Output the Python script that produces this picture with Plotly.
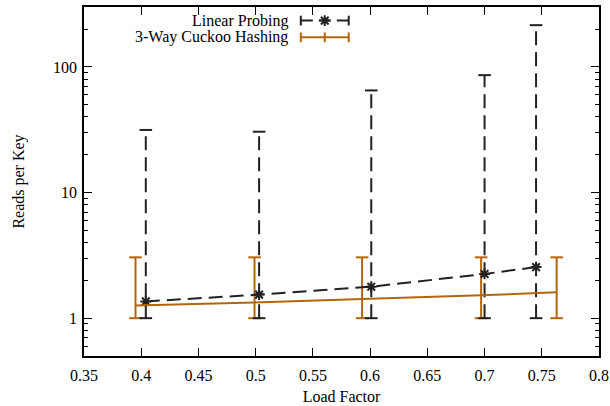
import plotly.graph_objects as go

# ---- data ----
lp_x = [0.404, 0.503, 0.601, 0.700, 0.745]
lp_mean = [1.36, 1.54, 1.78, 2.25, 2.55]
lp_low = [1, 1, 1, 1, 1]
lp_high = [31.5, 30.5, 65, 86, 215]

ck_x = [0.395, 0.499, 0.593, 0.697, 0.763]
ck_mean = [1.26, 1.33, 1.42, 1.52, 1.61]
ck_low = [1, 1, 1, 1, 1]
ck_high = [3.05, 3.05, 3.05, 3.05, 3.05]

x_ticks = [0.35, 0.4, 0.45, 0.5, 0.55, 0.6, 0.65, 0.7, 0.75, 0.8]
x_labels = ["0.35", "0.4", "0.45", "0.5", "0.55", "0.6", "0.65", "0.7", "0.75", "0.8"]
y_ticks = [1, 10, 100]
y_labels = ["1", "10", "100"]

LP_COLOR = "#222222"
CK_COLOR = "#b5650d"
FONT = "Liberation Serif, Times New Roman, serif"
FS = 16

fig = go.Figure()


def bars(xs, lo, hi):
    bx, by = [], []
    for x, l, h in zip(xs, lo, hi):
        bx += [x, x, None]
        by += [l, h, None]
    return bx, by


# cuckoo error bars
bx, by = bars(ck_x, ck_low, ck_high)
fig.add_trace(go.Scatter(x=bx, y=by, mode="lines",
                         line=dict(color=CK_COLOR, width=2), showlegend=False,
                         hoverinfo="skip"))
fig.add_trace(go.Scatter(x=ck_x + ck_x, y=ck_low + ck_high, mode="markers",
                         marker=dict(symbol="line-ew", size=9, color=CK_COLOR,
                                     line=dict(color=CK_COLOR, width=2)),
                         showlegend=False, hoverinfo="skip"))

# linear probing error bars (dashed)
bx, by = bars(lp_x, lp_low, lp_high)
fig.add_trace(go.Scatter(x=bx, y=by, mode="lines",
                         line=dict(color=LP_COLOR, width=2, dash="14px,7px"),
                         showlegend=False, hoverinfo="skip"))
fig.add_trace(go.Scatter(x=lp_x + lp_x, y=lp_low + lp_high, mode="markers",
                         marker=dict(symbol="line-ew", size=9, color=LP_COLOR,
                                     line=dict(color=LP_COLOR, width=2)),
                         showlegend=False, hoverinfo="skip"))

# mean lines
fig.add_trace(go.Scatter(x=lp_x, y=lp_mean, mode="lines+markers",
                         name="Linear Probing",
                         line=dict(color=LP_COLOR, width=2, dash="14px,7px"),
                         marker=dict(symbol="asterisk-open", size=9, color=LP_COLOR,
                                     line=dict(color=LP_COLOR, width=2)),
                         showlegend=False))
fig.add_trace(go.Scatter(x=ck_x, y=ck_mean, mode="lines",
                         name="3-Way Cuckoo Hashing",
                         line=dict(color=CK_COLOR, width=2),
                         showlegend=False))

# ---- custom gnuplot-like legend on an overlay axis ----
leg_x = [0.421, 0.514]
leg_mid = 0.4675
y_lp, y_ck = 0.961, 0.913
fig.add_trace(go.Scatter(x=leg_x, y=[y_lp, y_lp], mode="lines", xaxis="x2", yaxis="y2",
                         line=dict(color=LP_COLOR, width=2, dash="12px,6px"),
                         showlegend=False, hoverinfo="skip"))
fig.add_trace(go.Scatter(x=leg_x, y=[y_lp, y_lp], mode="markers", xaxis="x2", yaxis="y2",
                         marker=dict(symbol="line-ns", size=7, color=LP_COLOR,
                                     line=dict(color=LP_COLOR, width=2)),
                         showlegend=False, hoverinfo="skip"))
fig.add_trace(go.Scatter(x=[leg_mid], y=[y_lp], mode="markers", xaxis="x2", yaxis="y2",
                         marker=dict(symbol="asterisk-open", size=9, color=LP_COLOR,
                                     line=dict(color=LP_COLOR, width=2)),
                         showlegend=False, hoverinfo="skip"))
fig.add_trace(go.Scatter(x=leg_x, y=[y_ck, y_ck], mode="lines", xaxis="x2", yaxis="y2",
                         line=dict(color=CK_COLOR, width=2),
                         showlegend=False, hoverinfo="skip"))
fig.add_trace(go.Scatter(x=leg_x + [leg_mid], y=[y_ck, y_ck, y_ck], mode="markers", xaxis="x2", yaxis="y2",
                         marker=dict(symbol="line-ns", size=7, color=CK_COLOR,
                                     line=dict(color=CK_COLOR, width=2)),
                         showlegend=False, hoverinfo="skip"))

fig.add_annotation(xref="x2", yref="y2", x=0.400, y=y_lp, text="Linear Probing",
                   showarrow=False, xanchor="right", yanchor="middle",
                   font=dict(family=FONT, size=FS, color="black"))
fig.add_annotation(xref="x2", yref="y2", x=0.400, y=y_ck, text="3-Way Cuckoo Hashing",
                   showarrow=False, xanchor="right", yanchor="middle",
                   font=dict(family=FONT, size=FS, color="black"))

axis_common = dict(showline=True, linecolor="black", linewidth=1.5, mirror="ticks",
                   ticks="inside", tickcolor="black", tickwidth=1.2, showgrid=False,
                   zeroline=False, automargin=False,
                   tickfont=dict(family=FONT, size=FS, color="black"))

fig.update_layout(
    width=610, height=406,
    margin=dict(l=84, r=11, t=7, b=50),
    paper_bgcolor="white", plot_bgcolor="white",
    font=dict(family=FONT, size=FS, color="black"),
    xaxis=dict(range=[0.35, 0.8], tickvals=x_ticks, ticktext=x_labels, ticklen=8,
               ticklabelstandoff=4,
               title=dict(text="Load Factor", font=dict(family=FONT, size=FS), standoff=8),
               **axis_common),
    yaxis=dict(type="log", range=[-0.30103, 2.477], tickvals=y_ticks, ticktext=y_labels,
               ticklen=8, ticklabelstandoff=2,
               minor=dict(ticks="inside", ticklen=4, tickcolor="black", tickwidth=1.2,
                          dtick="D1", showgrid=False),
               title=dict(text="Reads per Key", font=dict(family=FONT, size=FS), standoff=24),
               **axis_common),
    xaxis2=dict(overlaying="x", range=[0, 1], visible=False, fixedrange=True),
    yaxis2=dict(overlaying="y", range=[0, 1], visible=False, fixedrange=True),
    showlegend=False,
)

fig.write_html("out.html", config={"displayModeBar": False},
               post_script="document.body.style.margin='0px';document.body.style.padding='0px';")
